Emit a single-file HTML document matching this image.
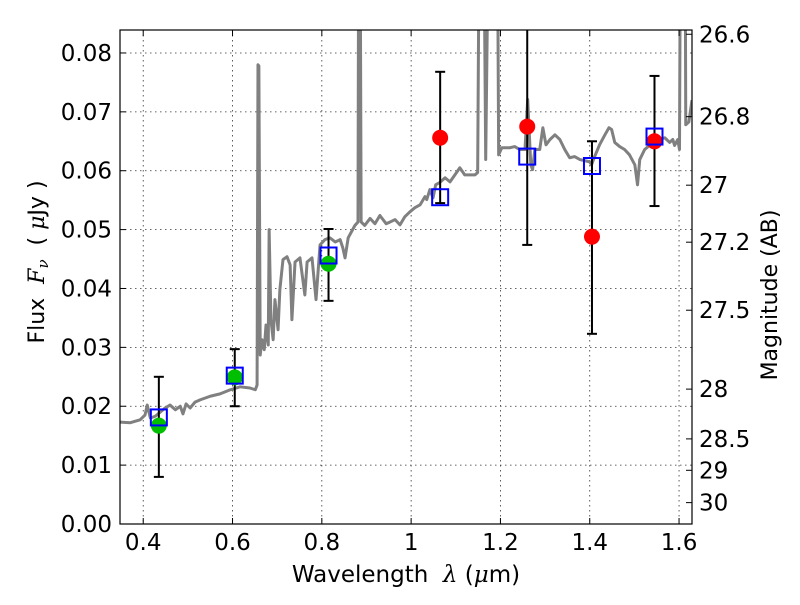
<!DOCTYPE html>
<html><head><meta charset="utf-8"><style>
body{margin:0;background:#fff}
svg text{font-family:"DejaVu Sans","Liberation Sans",sans-serif;fill:#000}
</style></head><body>
<svg id="c" width="800" height="600" viewBox="0 0 800 600" xmlns="http://www.w3.org/2000/svg"></svg>
<script>
const xTicks=[0.4,0.6,0.8,1.0,1.2,1.4,1.6];
const xTickLabels=["0.4","0.6","0.8","1","1.2","1.4","1.6"];
const yTicks=[0,0.01,0.02,0.03,0.04,0.05,0.06,0.07,0.08];
const yTickLabels=["0.00","0.01","0.02","0.03","0.04","0.05","0.06","0.07","0.08"];
const magTicks=[26.6,26.8,27,27.2,27.5,28,28.5,29,30];
const magTickLabels=["26.6","26.8","27","27.2","27.5","28","28.5","29","30"];
const specWave=[0.3485,0.371,0.393,0.404,0.409,0.416,0.427,0.438,0.449,0.460,0.472,0.483,0.489,0.496,0.505,0.516,0.528,0.550,0.572,0.595,0.617,0.639,0.651,0.655,0.657,0.659,0.662,0.666,0.671,0.675,0.680,0.682,0.686,0.691,0.695,0.702,0.706,0.713,0.722,0.729,0.733,0.740,0.751,0.762,0.767,0.778,0.787,0.796,0.807,0.818,0.830,0.841,0.847,0.852,0.859,0.874,0.881,0.883,0.885,0.888,0.896,0.908,0.919,0.930,0.944,0.953,0.964,0.975,0.986,0.997,1.008,1.020,1.031,1.035,1.042,1.049,1.055,1.064,1.076,1.087,1.098,1.109,1.120,1.143,1.149,1.154,1.161,1.167,1.176,1.192,1.196,1.203,1.221,1.232,1.243,1.255,1.261,1.268,1.272,1.277,1.288,1.295,1.302,1.311,1.322,1.333,1.344,1.355,1.366,1.378,1.400,1.404,1.411,1.422,1.434,1.443,1.449,1.456,1.467,1.478,1.489,1.501,1.507,1.512,1.523,1.534,1.545,1.557,1.568,1.579,1.586,1.590,1.597,1.601,1.604,1.613,1.615,1.622,1.629];
const specFlux=[0.0173,0.0172,0.0177,0.0185,0.0202,0.0180,0.0183,0.0190,0.0197,0.0202,0.0194,0.0200,0.0187,0.0204,0.0197,0.0207,0.0211,0.0217,0.0221,0.0228,0.0233,0.0231,0.0228,0.0236,0.0780,0.0778,0.0287,0.0313,0.0296,0.0338,0.0304,0.0500,0.0347,0.0313,0.0381,0.0330,0.0398,0.0449,0.0454,0.0440,0.0347,0.0445,0.0452,0.0389,0.0445,0.0452,0.0381,0.0474,0.0483,0.0486,0.0479,0.0483,0.0469,0.0452,0.0486,0.0507,0.0513,0.12,0.12,0.0513,0.0507,0.0519,0.0510,0.0524,0.0510,0.0513,0.0517,0.0508,0.0522,0.0530,0.0537,0.0542,0.0556,0.0551,0.0568,0.0554,0.0576,0.0580,0.0588,0.0581,0.0593,0.0605,0.0593,0.0593,0.0597,0.12,0.12,0.0619,0.12,0.12,0.0627,0.0639,0.0639,0.0641,0.0636,0.0636,0.0721,0.0610,0.0602,0.0636,0.0636,0.0673,0.0644,0.0653,0.0661,0.0653,0.0636,0.0622,0.0624,0.0619,0.0615,0.0610,0.0624,0.0644,0.0661,0.0673,0.0670,0.0648,0.0641,0.0636,0.0627,0.0610,0.0576,0.0619,0.0636,0.0643,0.0653,0.0653,0.0656,0.0648,0.0653,0.0643,0.0653,0.0636,0.12,0.12,0.0678,0.0683,0.072];
const greenWave=[0.435,0.605,0.815];
const greenFlux=[0.0167,0.0249,0.0442];
const greenLo=[0.0080,0.0200,0.0379];
const greenHi=[0.0250,0.0297,0.0501];
const redWave=[1.065,1.26,1.405,1.545];
const redFlux=[0.0656,0.0675,0.0488,0.0650];
const redLo=[0.0545,0.0474,0.0323,0.0540];
const redHi=[0.0768,0.0900,0.0650,0.0761];
const modelWave=[0.435,0.605,0.815,1.065,1.26,1.405,1.545];
const modelFlux=[0.0181,0.0252,0.0456,0.0555,0.0624,0.0608,0.0658];

const L=120,R=692,T=30,B=524,X0=0.348,X1=1.629,Y0=0,Y1=0.0839;
const sx=v=>L+(v-X0)/(X1-X0)*(R-L);
const sy=v=>B-(v-Y0)/(Y1-Y0)*(B-T);
const magToFlux=m=>Math.pow(10,(23.9-m)/2.5);
const NS="http://www.w3.org/2000/svg";
const svg=document.getElementById('c');
function mk(tag,attrs,parent){const e=document.createElementNS(NS,tag);for(const k in attrs)e.setAttribute(k,attrs[k]);(parent||svg).appendChild(e);return e;}
const defs=mk('defs',{});
const cp=mk('clipPath',{id:'clip'},defs);mk('rect',{x:L,y:T,width:R-L,height:B-T},cp);

const grid=mk('g',{stroke:'#000','stroke-width':0.8,'stroke-dasharray':'1.5,3.5',opacity:0.8});


xTicks.forEach(t=>{mk('line',{x1:sx(t),x2:sx(t),y1:T,y2:B},grid);});
yTicks.forEach(t=>{mk('line',{x1:L,x2:R,y1:sy(t),y2:sy(t)},grid);});

const spec=mk('polyline',{points:specWave.map((w,i)=>sx(w)+','+sy(specFlux[i])).join(' '),fill:'none',stroke:'#808080','stroke-width':3,'stroke-linejoin':'round','clip-path':'url(#clip)'});



function errbar(w,lo,hi){const g=mk('g',{stroke:'#000','stroke-width':2,'clip-path':'url(#clip)'});


mk('line',{x1:sx(w),x2:sx(w),y1:sy(lo),y2:sy(hi)},g);
mk('line',{x1:sx(w)-5,x2:sx(w)+5,y1:sy(lo),y2:sy(lo)},g);
mk('line',{x1:sx(w)-5,x2:sx(w)+5,y1:sy(hi),y2:sy(hi)},g);}
greenWave.forEach((w,i)=>errbar(w,greenLo[i],greenHi[i]));
redWave.forEach((w,i)=>errbar(w,redLo[i],redHi[i]));
greenWave.forEach((w,i)=>{const c=mk('circle',{cx:sx(w),cy:sy(greenFlux[i]),r:8,fill:'#00bf00'});

});
redWave.forEach((w,i)=>{const c=mk('circle',{cx:sx(w),cy:sy(redFlux[i]),r:8,fill:'#ff0000'});

});
modelWave.forEach((w,i)=>{const r=mk('rect',{x:sx(w)-8,y:sy(modelFlux[i])-8,width:16,height:16,fill:'none',stroke:'#0000ff','stroke-width':2});

});

const frame=mk('rect',{x:L,y:T,width:R-L,height:B-T,fill:'none',stroke:'#000','stroke-width':1.2});


const tk=mk('g',{stroke:'#000','stroke-width':1});


xTicks.forEach((t,i)=>{const x=sx(t);mk('line',{x1:x,x2:x,y1:B,y2:B-6},tk);mk('line',{x1:x,x2:x,y1:T,y2:T+6},tk);
const tx=mk('text',{x:x,y:B+26,'font-size':23,'text-anchor':'middle',stroke:'none'});tx.textContent=xTickLabels[i];

});
yTicks.forEach((t,i)=>{const y=sy(t);mk('line',{x1:L,x2:L+6,y1:y,y2:y},tk);
const tx=mk('text',{x:L-8,y:y+8,'font-size':23,'text-anchor':'end',stroke:'none'});tx.textContent=yTickLabels[i];

});
magTicks.forEach((m,i)=>{const y=sy(magToFlux(m));mk('line',{x1:R,x2:R-6,y1:y,y2:y},tk);
const tx=mk('text',{x:R+7,y:y+8,'font-size':23,stroke:'none'});tx.textContent=magTickLabels[i];

});
</script>
<svg width="800" height="600" style="position:absolute;left:0;top:0">
<text x="406" y="582" font-size="23" text-anchor="middle" xml:space="preserve">Wavelength  <tspan font-style="italic" font-family="DejaVu Serif, serif">λ</tspan> (<tspan font-style="italic" font-family="DejaVu Serif, serif">μ</tspan>m)</text>
<text transform="translate(44,262) rotate(-90)" font-size="22" text-anchor="middle" xml:space="preserve">Flux  <tspan font-style="italic" font-family="DejaVu Serif, serif">F</tspan><tspan font-style="italic" font-family="DejaVu Serif, serif" font-size="15" dy="4">ν</tspan><tspan dy="-4">  ( </tspan><tspan font-style="italic" font-family="DejaVu Serif, serif">μ</tspan>Jy )</text>
<text transform="translate(777,295) rotate(-90)" font-size="22" text-anchor="middle">Magnitude (AB)</text>
</svg>
</body></html>
